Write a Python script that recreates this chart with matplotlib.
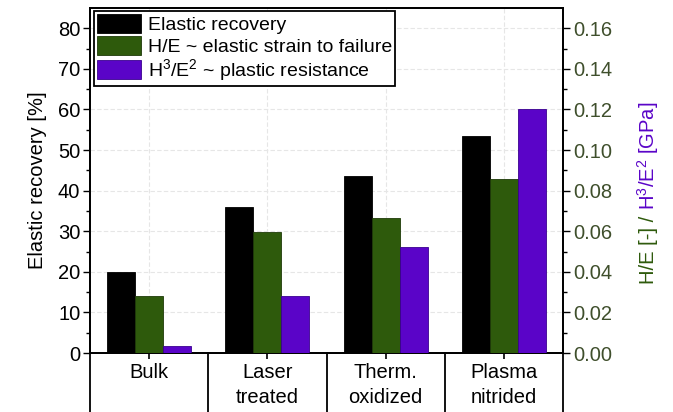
import matplotlib.pyplot as plt
import matplotlib.transforms as mtransforms
import numpy as np

plt.rcParams['font.family'] = ['Liberation Sans', 'DejaVu Sans']
plt.rcParams['mathtext.default'] = 'regular'

# values
categories = ['Bulk', 'Laser\ntreated', 'Therm.\noxidized', 'Plasma\nnitrided']
elastic_recovery = [20.0, 35.9, 43.6, 53.4]      # %
h_over_e = [0.0282, 0.0594, 0.0663, 0.0857]      # -
h3_over_e2 = [0.0036, 0.0282, 0.0524, 0.1200]    # GPa

c_black = '#000000'
c_green = '#2e5a0c'
c_purple = '#5a04c8'
c_tick_r = '#3f4f2c'
fs = 14.5

fig = plt.figure(figsize=(6.73, 4.12), dpi=100)
ax = fig.add_axes([0.1337, 0.1432, 0.7029, 0.8374])
ax2 = ax.twinx()

x = np.arange(1, len(categories) + 1)
w = 0.237

ax.set_zorder(ax2.get_zorder() + 1)
ax.patch.set_visible(False)
ax2.patch.set_facecolor('white')

b1 = ax.bar(x - w, elastic_recovery, w, color=c_black, edgecolor=c_black, linewidth=0.6,
            label='Elastic recovery', zorder=3)
# H/E and H3/E2 belong to the right axis, scaled into left units so they share z-order
scale = 85 / 0.17
b2 = ax.bar(x, np.array(h_over_e) * scale, w, color=c_green, edgecolor='#1e3a08', linewidth=0.6,
            label='H/E ~ elastic strain to failure', zorder=3)
b3 = ax.bar(x + w, np.array(h3_over_e2) * scale, w, color=c_purple, edgecolor='#3a0090', linewidth=0.6,
            label='H$^3$/E$^2$ ~ plastic resistance', zorder=3)

ax.set_xlim(0.5, 4.5)
ax.set_ylim(0, 85)
ax2.set_ylim(0, 0.17)

ax.set_yticks(np.arange(0, 81, 10))
ax.set_yticks(np.arange(5, 85, 10), minor=True)
ax2.set_yticks(np.arange(0, 0.161, 0.02))
ax2.set_yticks(np.arange(0.01, 0.17, 0.02), minor=True)
ax2.set_yticklabels(['%.2f' % v for v in np.arange(0, 0.161, 0.02)])

ax.set_xticks(x)
ax.set_xticklabels([])
ax.tick_params(axis='x', length=4, width=1.2)
ax.tick_params(axis='y', which='major', labelsize=fs, length=5, width=1, pad=2)
ax.tick_params(axis='y', which='minor', length=3, width=1)
ax2.tick_params(axis='y', which='major', labelsize=fs, length=5, width=1, pad=2,
                labelcolor=c_tick_r)
ax2.tick_params(axis='y', which='minor', length=3, width=1)

ax.grid(True, which='major', color='#e6e6e6', linestyle=(0, (4, 2)), linewidth=0.8, zorder=0)
for sp in list(ax.spines.values()) + list(ax2.spines.values()):
    sp.set_linewidth(1.3)

ax.set_ylabel('Elastic recovery [%]', fontsize=fs, labelpad=8)

# category boxes below the axis
trans = mtransforms.blended_transform_factory(ax.transData, ax.transAxes)
for sep in np.arange(0.5, 4.6, 1.0):
    ax.plot([sep, sep], [0, -0.3], transform=trans, color='black', linewidth=1.3,
            clip_on=False, zorder=5)
for xi, cat in zip(x, categories):
    ax.text(xi, -0.03, cat, transform=trans, ha='center', va='top', fontsize=fs,
            linespacing=1.35)

leg = ax.legend(handles=[b1, b2, b3], loc='upper left', bbox_to_anchor=(0.008, 0.99),
                fontsize=14, frameon=True, fancybox=False, framealpha=1,
                edgecolor='black', borderpad=0.15, labelspacing=0.08,
                handlelength=2.3, handleheight=1.1, handletextpad=0.35, borderaxespad=0)
leg.get_frame().set_linewidth(1.3)
leg.set_zorder(10)

# two-coloured right axis label
fig.canvas.draw()
renderer = fig.canvas.get_renderer()
t1 = fig.text(0.963, 0.31, 'H/E [-] / ', rotation=90, color=c_green, fontsize=fs,
              ha='center', va='bottom')
bb = t1.get_window_extent(renderer).transformed(fig.transFigure.inverted())
fig.text(0.963, bb.y1, 'H$^3$/E$^2$ [GPa]', rotation=90, color=c_purple, fontsize=fs,
         ha='center', va='bottom')

fig.savefig('out.png', dpi=100)
